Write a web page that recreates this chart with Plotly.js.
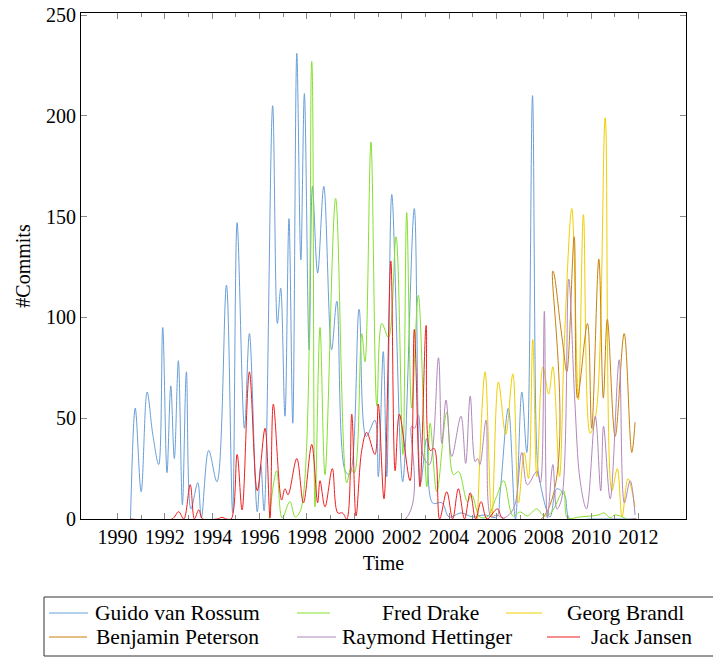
<!DOCTYPE html>
<html>
<head>
<meta charset="utf-8">
<script src="https://cdn.plot.ly/plotly-3.0.1.min.js"></script>
<style>html,body{margin:0;padding:0;background:#fff;}#chart{width:713px;height:657px;}</style>
</head>
<body>
<div id="chart"></div>
<script>
// ---------------- data ----------------
var seriesNames = ["Guido van Rossum", "Fred Drake", "Georg Brandl", "Benjamin Peterson", "Raymond Hettinger", "Jack Jansen"];

var guidoX = [1990.55,1990.75,1991.0,1991.25,1991.49,1991.74,1991.91,1992.09,1992.25,1992.4,1992.57,1992.74,1992.91,1993.1,1993.39,1993.54,1993.85,1994.2,1994.6,1994.86,1995.05,1995.36,1995.57,1995.9,1996.05,1996.19,1996.55,1996.75,1996.89,1997.07,1997.24,1997.4,1997.57,1997.74,1997.89,1998.09,1998.23,1998.45,1998.71,1999.04,1999.26,1999.61,1999.8,2000.2,2000.5,2000.87,2001.01,2001.22,2001.37,2001.58,2002.04,2002.53,2002.8,2003.05,2003.3,2003.7,2004.0,2004.5,2005.0,2005.5,2006.0,2006.15,2006.5,2006.8,2007.07,2007.28,2007.52,2007.7,2007.81,2008.26,2008.55,2008.87,2009.1,2010.0,2011.9];
var guidoY = [0,55,13.5,63,42,27,95,23,66,30,78.5,7,73,5,18,0.5,34,18.5,116,3,147,45,92,3.6,27,4,205,97,114.5,51,149,47.5,231,128.5,211,84,165,122,165,84,108,24,22,104,41,49,21,83,21,161,18.5,154,18,40,8,8,1,3,1,2,1,13,55,0,63,33,210,34,20,1,15,12,0,0,0];

var fredX = [1996.4,1996.72,1996.95,1997.28,1997.5,1997.75,1998.2,1998.34,1998.55,1998.76,1999.21,1999.68,1999.85,2000.0,2000.31,2000.45,2000.7,2000.95,2001.16,2001.44,2001.76,2002.05,2002.21,2002.42,2002.7,2003.06,2003.2,2003.48,2003.9,2004.18,2004.4,2004.77,2004.95,2005.3,2005.6,2006.0,2006.3,2006.7,2007.0,2007.3,2007.7,2008.0,2008.3,2008.83,2009.0,2009.5,2010.3,2010.55,2010.8,2011.0,2011.5];
var fredY = [0,24,0.5,8.6,1,5,227,6,95,22,159,18,25,23,92,78,187,56,97,90,140,32,152,55,111,16,47.5,13.5,53,22,23.5,8.6,12,1,1,11,19,1.5,3.5,1.5,5,1.5,3,14,0.5,1,2,3,0.5,2,0];

var georgX = [2005.2,2005.52,2005.8,2006.08,2006.39,2006.69,2006.93,2007.17,2007.35,2007.53,2007.7,2007.96,2008.2,2008.38,2008.66,2008.87,2009.18,2009.46,2009.67,2009.95,2010.2,2010.59,2010.87,2011.1,2011.3,2011.55,2011.85];
var georgY = [0,73,1,68,42,72,8,33,20,89,21,75.5,62,75.5,21,89.6,154,59,151,42.5,52,199,14,25,1,20,6];

var benjaminX = [2002.2,2007.9,2008.38,2008.69,2008.82,2008.97,2009.28,2009.42,2009.84,2010.02,2010.32,2010.51,2010.68,2011.01,2011.39,2011.71,2011.85];
var benjaminY = [0,0,123,97,85,73,140,60,97,45,129,60,99,41,92,33,48];

var raymondX = [1994.7,2002.15,2002.42,2002.55,2002.7,2002.91,2003.17,2003.55,2003.69,2003.87,2004.11,2004.5,2004.7,2004.89,2005.1,2005.2,2005.3,2005.56,2005.77,2006.0,2006.3,2006.6,2006.8,2007.07,2007.3,2007.7,2007.85,2008.02,2008.15,2008.38,2008.55,2008.75,2009.05,2009.3,2009.53,2009.8,2010.17,2010.4,2010.52,2010.8,2011.18,2011.4,2011.64,2011.85];
var raymondY = [0,0,46,45,51.6,31,27,80,37.5,59,31,51,27.6,61,28.4,30,27,49,1,2,0.5,3,8,33,17,23.5,18,103,0.5,27,5,10,119,60,19,5,51,14,46,10,79,8,19,2];

var jackX = [1990.55,1992.3,1992.58,1992.8,1993.07,1993.25,1993.43,1993.6,1994.2,1994.41,1994.6,1994.8,1995.05,1995.26,1995.57,1995.9,1996.23,1996.44,1996.58,1996.93,1997.07,1997.2,1997.57,1997.85,1998.2,1998.45,1998.55,1998.76,1999.07,1999.3,1999.5,1999.68,1999.89,2000.07,2000.31,2000.52,2000.87,2001.01,2001.25,2001.54,2001.72,2001.9,2002.35,2002.53,2002.77,2003.03,2003.2,2003.37,2003.6,2003.9,2004.15,2004.39,2004.65,2004.89,2005.12,2005.35,2005.6,2006.04,2006.3,2011.9];
var jackY = [0,0,3.6,0,17,0,4.5,0,0,0.8,0,0,32,4.5,73,14,45,0.5,57,9.4,15,12,30,8,37,8,19,6,25,3,3,0,52,1.5,34,43,32,57,10,128,24,52,19,94,16,96,34,35,0,13.5,0,15,0,13,0,8.6,0,5,0,0];

var yearTicks = [1990,1992,1994,1996,1998,2000,2002,2004,2006,2008,2010,2012];
var yearLabels = ["1990","1992","1994","1996","1998","2000","2002","2004","2006","2008","2010","2012"];
var yearMinorTicks = [1991,1993,1995,1997,1999,2001,2003,2005,2007,2009,2011];
var commitTicks = [0,50,100,150,200,250];
var commitLabels = ["0","50","100","150","200","250"];

// ---------------- styling ----------------
var colors = ["#6a9fd8", "#85e02e", "#f0cf00", "#c8800f", "#b287bb", "#f01e1e"];
var xs = [guidoX, fredX, georgX, benjaminX, raymondX, jackX];
var ys = [guidoY, fredY, georgY, benjaminY, raymondY, jackY];

var traces = [];
for (var i = 0; i < seriesNames.length; i++) {
  traces.push({
    type: "scatter", mode: "lines", name: seriesNames[i],
    x: xs[i], y: ys[i],
    line: {color: colors[i], width: 1, shape: "spline", smoothing: 1},
    hoverinfo: "x+y+name"
  });
}

var font = {family: "Liberation Serif, 'DejaVu Serif', serif", size: 20, color: "#000"};
var legendFont = {family: "Liberation Serif, 'DejaVu Serif', serif", size: 21.5, color: "#000"};
var L = 81, R = 686, T = 13, B = 519;
function PX(px) { return (px - L) / (R - L); }
function PY(py) { return 1 - (py - T) / (B - T); }

// manual legend (pgfplots-like, 3 columns, centred text)
var legendRows = [613, 637];
var legendEntries = [
  {row: 0, x0: 49, x1: 88, tx: 177},
  {row: 0, x0: 297, x1: 330, tx: 430},
  {row: 0, x0: 506, x1: 542, tx: 625},
  {row: 1, x0: 49, x1: 87, tx: 177},
  {row: 1, x0: 297, x1: 336, tx: 427},
  {row: 1, x0: 547, x1: 580, tx: 641}
];
var shapes = [{
  type: "rect", xref: "paper", yref: "paper",
  x0: PX(44), x1: PX(730), y0: PY(597), y1: PY(656),
  line: {color: "#333", width: 1}, fillcolor: "rgba(0,0,0,0)"
}];
var annotations = [];
for (var k = 0; k < legendEntries.length; k++) {
  var e = legendEntries[k];
  var yy = legendRows[e.row];
  shapes.push({type: "line", xref: "paper", yref: "paper",
    x0: PX(e.x0), x1: PX(e.x1), y0: PY(yy), y1: PY(yy),
    line: {color: colors[k], width: 1.2}});
  annotations.push({xref: "paper", yref: "paper", x: PX(e.tx), y: PY(yy),
    text: seriesNames[k], showarrow: false, xanchor: "center", yanchor: "middle",
    font: legendFont});
}

var layout = {
  width: 713, height: 657,
  margin: {l: L, r: 713 - R, t: T, b: 657 - B},
  paper_bgcolor: "#fff", plot_bgcolor: "#fff",
  showlegend: false,
  font: font,
  xaxis: {
    range: [1988.46, 2014.0], tickmode: "array", tickvals: yearTicks, ticktext: yearLabels,
    ticks: "inside", ticklen: 6, tickcolor: "#888", tickwidth: 1,
    minor: {tickmode: "array", tickvals: yearMinorTicks, ticks: "inside", ticklen: 4, tickcolor: "#888", showgrid: false},
    showline: true, linecolor: "#000", linewidth: 1, mirror: "ticks",
    showgrid: false, zeroline: false, tickfont: font,
    title: {text: "Time", font: font, standoff: 8}
  },
  yaxis: {
    range: [0, 251], tickmode: "array", tickvals: commitTicks, ticktext: commitLabels,
    ticks: "inside", ticklen: 6, tickcolor: "#888", tickwidth: 1,
    showline: true, linecolor: "#000", linewidth: 1, mirror: "ticks",
    showgrid: false, zeroline: false, tickfont: font,
    title: {text: "#Commits", font: font, standoff: 10}
  },
  shapes: shapes,
  annotations: annotations
};

Plotly.newPlot("chart", traces, layout, {displayModeBar: false, staticPlot: true});
</script>
</body>
</html>
